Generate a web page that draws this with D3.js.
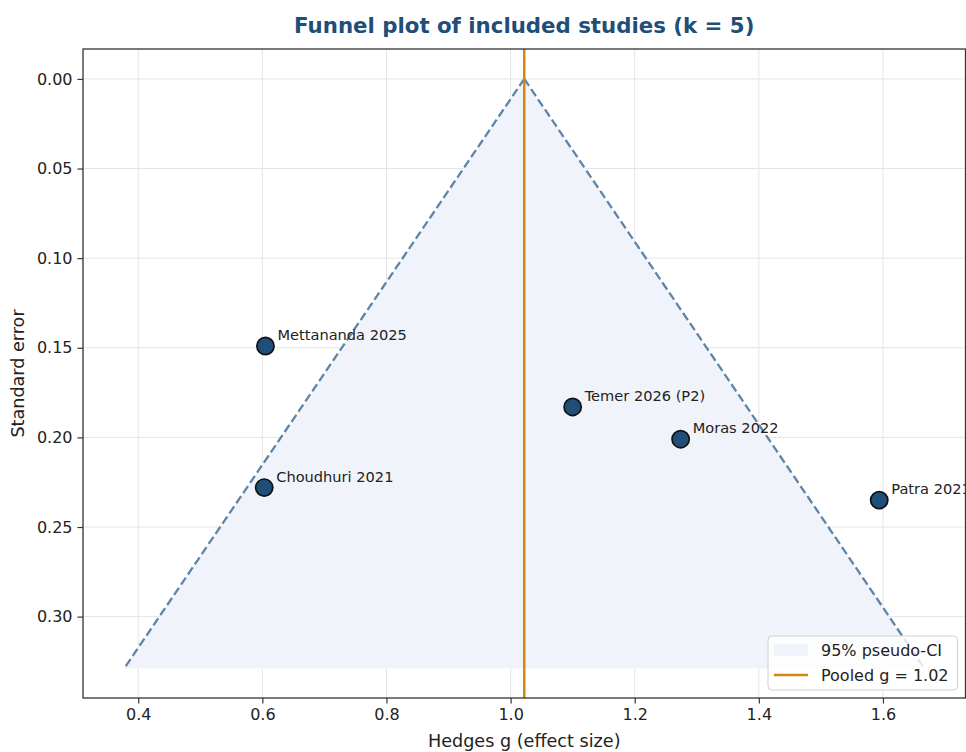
<!DOCTYPE html>
<html>
<head>
<meta charset="utf-8">
<script src="https://cdn.jsdelivr.net/npm/d3@7"></script>
<style>
  body { margin: 0; background: #fff; }
  svg { display: block; font-family: "DejaVu Sans", sans-serif; }
</style>
</head>
<body>
<svg id="svg"></svg>
<script>
// study data
const studies = ["Mettananda 2025", "Choudhuri 2021", "Temer 2026 (P2)", "Moras 2022", "Patra 2021"];
const hedgesG = [0.605, 0.603, 1.100, 1.274, 1.594];
const stdErr = [0.149, 0.228, 0.183, 0.201, 0.235];

const pooledG = 1.022;
const funnelSe = [0, 0.329];

const xTicks = [0.4, 0.6, 0.8, 1.0, 1.2, 1.4, 1.6];
const yTicks = [0.00, 0.05, 0.10, 0.15, 0.20, 0.25, 0.30];

const layout = {"width": 966,
                "height": 752,
                "marginTop": 49,
                "marginRight": 0.5,
                "marginBottom": 54,
                "marginLeft": 83};

const svgElement = d3.select("#svg")
  .attr("width", layout.width)
  .attr("height", layout.height);

const x0 = layout.marginLeft, x1 = layout.width - layout.marginRight;
const y0 = layout.marginTop, y1 = layout.height - layout.marginBottom;

const xScale = d3.scaleLinear().domain([0.311, 1.733]).range([x0, x1]);
const yScale = d3.scaleLinear().domain([-0.0167, 0.3454]).range([y0, y1]);

// grid
const grid = svgElement.append("g");
grid.selectAll(".vg").data(xTicks).join("line")
  .attr("x1", d => xScale(d)).attr("x2", d => xScale(d))
  .attr("y1", y0).attr("y2", y1)
  .attr("stroke", "#e4e4e4").attr("stroke-width", 1);
grid.selectAll(".hg").data(yTicks).join("line")
  .attr("y1", d => yScale(d)).attr("y2", d => yScale(d))
  .attr("x1", x0).attr("x2", x1)
  .attr("stroke", "#e4e4e4").attr("stroke-width", 1);

// funnel region
const seMax = funnelSe[1];
const funnelPts = [[pooledG, 0], [pooledG - 1.96 * seMax, seMax], [pooledG + 1.96 * seMax, seMax]];
svgElement.append("path")
  .attr("d", d3.line().x(d => xScale(d[0])).y(d => yScale(d[1]))(funnelPts) + "Z")
  .attr("fill", "#f0f4fa");

const ciLine = d3.line().x(d => xScale(d[0])).y(d => yScale(d[1]));
[-1, 1].forEach(s => {
  svgElement.append("path")
    .attr("d", ciLine(funnelSe.map(se => [pooledG + s * 1.96 * se, se])))
    .attr("fill", "none")
    .attr("stroke", "#5e84a8")
    .attr("stroke-width", 2.3)
    .attr("stroke-dasharray", "8.5,3.8");
});

// pooled line
svgElement.append("line")
  .attr("x1", xScale(pooledG)).attr("x2", xScale(pooledG))
  .attr("y1", y0).attr("y2", y1)
  .attr("stroke", "#d4860f").attr("stroke-width", 2.5);

// points and labels
const data = studies.map((s, i) => ({name: s, g: hedgesG[i], se: stdErr[i]}));
svgElement.selectAll(".pt").data(data).join("circle")
  .attr("cx", d => xScale(d.g))
  .attr("cy", d => yScale(d.se))
  .attr("r", 8.6)
  .attr("fill", "#1f4e79")
  .attr("stroke", "#111")
  .attr("stroke-width", 1.7);

svgElement.selectAll(".lbl").data(data).join("text")
  .attr("x", d => xScale(d.g) + 12)
  .attr("y", d => yScale(d.se) - 6)
  .attr("font-size", "14.6px")
  .attr("fill", "#222")
  .text(d => d.name);

// axes
const xAxis = svgElement.append("g")
  .attr("transform", `translate(0, ${y1})`)
  .call(d3.axisBottom(xScale).tickValues(xTicks).tickFormat(d3.format(".1f")).tickSizeOuter(0).tickSize(5.5).tickPadding(5));
const yAxis = svgElement.append("g")
  .attr("transform", `translate(${x0}, 0)`)
  .call(d3.axisLeft(yScale).tickValues(yTicks).tickFormat(d3.format(".2f")).tickSizeOuter(0).tickSize(5.5).tickPadding(5));
[xAxis, yAxis].forEach(a => {
  a.select(".domain").remove();
  a.selectAll("line").attr("stroke", "#333").attr("stroke-width", 1.2);
  a.selectAll("text").attr("font-size", "16px").attr("fill", "#222").attr("font-family", "DejaVu Sans");
});

// frame
svgElement.append("rect")
  .attr("x", x0).attr("y", y0)
  .attr("width", x1 - x0).attr("height", y1 - y0)
  .attr("fill", "none").attr("stroke", "#333").attr("stroke-width", 1.3);

// titles
svgElement.append("text")
  .attr("x", (x0 + x1) / 2).attr("y", 33)
  .attr("text-anchor", "middle")
  .attr("font-size", "21.3px").attr("font-weight", "bold")
  .attr("fill", "#1f4e79")
  .text("Funnel plot of included studies (k = 5)");

svgElement.append("text")
  .attr("x", (x0 + x1) / 2).attr("y", 747)
  .attr("text-anchor", "middle")
  .attr("font-size", "17.6px").attr("fill", "#222")
  .text("Hedges g (effect size)");

svgElement.append("text")
  .attr("transform", `translate(24, ${(y0 + y1) / 2}) rotate(-90)`)
  .attr("text-anchor", "middle")
  .attr("font-size", "17.6px").attr("fill", "#222")
  .text("Standard error");

// legend
const legend = svgElement.append("g").attr("transform", "translate(768, 636)");
legend.append("rect")
  .attr("width", 189.5).attr("height", 54).attr("rx", 4)
  .attr("fill", "#fff").attr("fill-opacity", 0.8)
  .attr("stroke", "#d0d0d0").attr("stroke-width", 1);
legend.append("rect")
  .attr("x", 6).attr("y", 8).attr("width", 34).attr("height", 12)
  .attr("fill", "#f0f4fa");
legend.append("line")
  .attr("x1", 6).attr("x2", 40).attr("y1", 39).attr("y2", 39)
  .attr("stroke", "#d4860f").attr("stroke-width", 2.5);
legend.selectAll(".lt").data(["95% pseudo-CI", "Pooled g = " + pooledG.toFixed(2)]).join("text")
  .attr("x", 53).attr("y", (d, i) => 20 + i * 25)
  .attr("font-size", "16px").attr("fill", "#222")
  .text(d => d);
</script>
</body>
</html>
